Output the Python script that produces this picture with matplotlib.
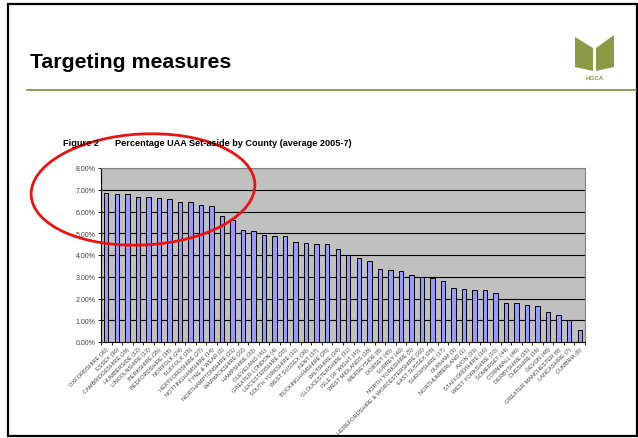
import matplotlib
matplotlib.use("Agg")
import matplotlib.pyplot as plt
from matplotlib.patches import Ellipse, Rectangle, Polygon
from matplotlib.ticker import FuncFormatter, FixedLocator
import numpy as np

plt.rcParams['font.family'] = ['Liberation Sans', 'DejaVu Sans']

# Percentage of UAA set aside by county, average 2005-7
counties = [
    "OXFORDSHIRE (30)", "ESSEX (36)", "CAMBRIDGESHIRE (29)", "HUMBERSIDE (12)",
    "LINCOLNSHIRE (13)", "BERKSHIRE (35)", "BEDFORDSHIRE (38)", "NORFOLK (24)",
    "SUFFOLK (25)", "HERTFORDSHIRE (27)", "NOTTINGHAMSHIRE (14)", "TYNE & WEAR (2)",
    "NORTHAMPTONSHIRE (21)", "WARWICKSHIRE (22)", "HAMPSHIRE (33)", "CLEVELAND (41)",
    "GREATER LONDON (4)", "LEICESTERSHIRE (20)", "SOUTH YORKSHIRE (11)", "WEST SUSSEX (39)",
    "KENT (37)", "BUCKINGHAMSHIRE (26)", "WILTSHIRE (34)", "GLOUCESTERSHIRE (31)",
    "ISLE OF WIGHT (43)", "WEST MIDLANDS (18)", "MERSEYSIDE (8)", "DORSET (45)",
    "SURREY (40)", "NORTH YORKSHIRE (5)", "HEREFORDSHIRE & WORCESTERSHIRE (32)",
    "EAST SUSSEX (28)", "SHROPSHIRE (17)", "DURHAM (3)", "NORTHUMBERLAND (1)",
    "AVON (33)", "STAFFORDSHIRE (16)", "WEST YORKSHIRE (10)", "SOMERSET (44)",
    "CORNWALL (46)", "DERBYSHIRE (15)", "CHESHIRE (16)", "DEVON (48)",
    "GREATER MANCHESTER (9)", "LANCASHIRE (7)", "CUMBRIA (6)",
]
set_aside = [
    6.85, 6.80, 6.80, 6.65, 6.65, 6.60, 6.57, 6.42, 6.42, 6.32, 6.26, 5.80,
    5.63, 5.17, 5.12, 4.91, 4.89, 4.89, 4.62, 4.53, 4.52, 4.52, 4.26, 4.01,
    3.85, 3.72, 3.36, 3.29, 3.25, 3.10, 3.00, 2.93, 2.82, 2.48, 2.45, 2.39,
    2.38, 2.27, 1.79, 1.78, 1.70, 1.66, 1.40, 1.25, 1.03, 0.55,
]
y_ticks = [0, 1, 2, 3, 4, 5, 6, 7, 8]

W, H = 638, 439
fig = plt.figure(figsize=(W / 100, H / 100), dpi=100)
fig.patch.set_facecolor('white')

# chart area (pixel box 101..585 x 169..343)
ax = fig.add_axes([101 / W, (H - 343) / H, 484 / W, 174 / H])
ax.set_facecolor('#c0c0c0')
x = np.arange(len(counties))
ax.bar(x, set_aside, width=0.42, color='#9999ff', edgecolor='black', linewidth=0.7, zorder=3)
ax.set_xlim(-0.5, len(counties) - 0.5)
ax.set_ylim(0, 8)
ax.set_yticks(y_ticks)
ax.yaxis.set_major_formatter(FuncFormatter(lambda v, p: '{:.2f}%'.format(v)))
ax.grid(axis='y', color='black', linewidth=0.8, zorder=1)
ax.set_xticks(x)
ax.set_xticklabels(counties, rotation=45, ha='right', rotation_mode='anchor',
                   fontsize=4.1, color='#404040')
ax.xaxis.set_minor_locator(FixedLocator(np.arange(-0.5, len(counties), 1)))
ax.tick_params(axis='x', which='major', length=0, pad=3)
ax.tick_params(axis='x', which='minor', length=2, width=0.6, color='black')
ax.tick_params(axis='y', length=2, width=0.6, labelsize=5, labelcolor='#404040', pad=2)
for s in ['top', 'right']:
    ax.spines[s].set_color('#808080')
    ax.spines[s].set_linewidth(0.8)
for s in ['left', 'bottom']:
    ax.spines[s].set_color('black')
    ax.spines[s].set_linewidth(0.8)

# slide decorations in pixel coordinates
ov = fig.add_axes([0, 0, 1, 1], facecolor='none')
ov.set_xlim(0, W)
ov.set_ylim(H, 0)
ov.axis('off')

ov.add_patch(Rectangle((8, 5), 629, 432, fill=False, edgecolor='black', linewidth=1.6))
ov.plot([27, 636], [91, 91], color='#7f8a3c', linewidth=1.2)
ov.text(30, 63, 'Targeting measures', fontsize=15.3, fontweight='bold',
        ha='left', va='center', color='black')

# logo
green = '#8c9a45'
ov.add_patch(Polygon([(575, 38), (593, 49), (593, 72), (575, 68)], closed=True,
                     facecolor=green, edgecolor='none'))
ov.add_patch(Polygon([(614, 36), (596, 49), (596, 72), (614, 68)], closed=True,
                     facecolor=green, edgecolor='none'))
ov.text(594.5, 78, 'HGCA', fontsize=4.5, fontweight='bold', color=green,
        ha='center', va='center')

ov.text(63, 144, 'Figure 2', fontsize=6.6, fontweight='bold', ha='left', va='center', color='black')
ov.text(115, 144, 'Percentage UAA Set-aside by County (average 2005-7)', fontsize=6.6,
        fontweight='bold', ha='left', va='center', color='black')

ov.add_patch(Ellipse((143, 190.5), 224, 111, angle=-3, fill=False,
                     edgecolor='#ee1111', linewidth=2.0))

fig.savefig('out.png', dpi=100)
